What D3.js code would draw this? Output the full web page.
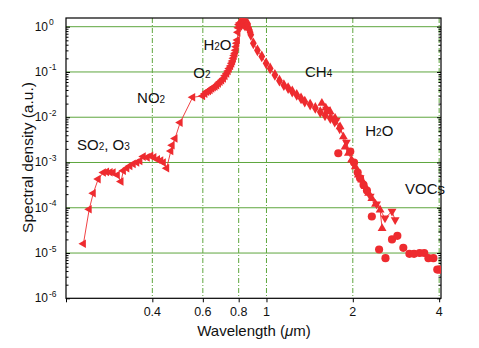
<!DOCTYPE html>
<html><head><meta charset="utf-8">
<script src="https://cdn.jsdelivr.net/npm/d3@7"></script>
<style>body{margin:0;background:#fff}svg{display:block}text{font-family:"Liberation Sans",Arial,sans-serif;fill:#111}</style>
</head><body><svg id="c" width="479" height="348"></svg>
<script>
// ---- data (wavelength in µm, spectral density a.u.) ----
const uvWl  = [0.230,0.241,0.249,0.259,0.270,0.277,0.285,0.292,0.302,0.311,0.317,0.326,0.334,0.343,0.353,0.362,0.372,0.384,0.395,0.405,0.417,0.428,0.437,0.449,0.464,0.469,0.480,0.500,0.553,0.599,0.610,0.619,0.628,0.636,0.645,0.653,0.662,0.671,0.680,0.689,0.698,0.708,0.717,0.727,0.735,0.742,0.750,0.757,0.762,0.767,0.772,0.777,0.781,0.784,0.788,0.792,0.795,0.798,0.802,0.807];
const uvVal = [1.6e-5,9.3e-5,2.1e-4,4.3e-4,6.0e-4,6.2e-4,6.1e-4,6.0e-4,5.3e-4,3.8e-4,6.6e-4,7.5e-4,8.4e-4,9.3e-4,1.0e-3,1.08e-3,1.35e-3,1.3e-3,1.4e-3,1.3e-3,1.17e-3,1.1e-3,1.0e-3,7.5e-4,1.8e-3,2.4e-3,3.4e-3,7.6e-3,2.76e-2,2.95e-2,3.3e-2,3.67e-2,3.8e-2,4.0e-2,4.3e-2,4.6e-2,4.8e-2,5.1e-2,5.6e-2,6.1e-2,6.6e-2,7.2e-2,8.2e-2,9.3e-2,0.105,0.12,0.135,0.155,0.175,0.20,0.23,0.26,0.30,0.36,0.43,0.51,0.75,0.95,1.1,1.2];
const nirWl  = [0.812,0.818,0.824,0.830,0.836,0.842,0.848,0.854,0.860,0.866,0.872,0.877,0.882,0.900,0.930,0.963,0.997,1.03,1.07,1.11,1.15,1.19,1.23,1.275,1.32,1.36,1.42,1.48,1.54,1.60,1.67,1.73,1.80];
const nirVal = [1.25,1.1,1.3,1.15,1.25,1.05,1.2,1.1,1.15,0.95,0.85,0.75,0.66,0.43,0.30,0.22,0.155,0.12,0.086,0.064,0.051,0.044,0.037,0.031,0.026,0.022,0.019,0.016,0.013,0.011,9.5e-3,8.0e-3,5.7e-3];
const upWl  = [1.56,1.61,1.667,1.735,1.806,1.854,1.88,1.93,1.98,2.04,2.09,2.15,2.21,2.27,2.33,2.40,2.49,2.53];
const upVal = [0.0204,0.016,0.0133,9.5e-3,6.2e-3,3.7e-3,2.2e-3,1.6e-3,1.14e-3,8.1e-4,5.3e-4,4.1e-4,2.95e-4,2.1e-4,1.6e-4,1.2e-4,9.0e-5,3.5e-5];
const downWl  = [1.62,1.75,1.90,2.00,2.12,2.30,2.42,2.59,2.74,2.81];
const downVal = [0.015,8.5e-3,2.8e-3,1.0e-3,4.6e-4,1.8e-4,1.2e-4,5.9e-5,8.3e-5,5.4e-5];
const dotWl  = [1.78,1.96,2.02,2.08,2.12,2.18,2.24,2.33,2.47,2.60,2.74,2.86,3.00,3.15,3.27,3.42,3.55,3.67,3.82,3.94,4.00];
const dotVal = [1.6e-3,1.74e-3,1.0e-3,6.0e-4,4.5e-4,3.2e-4,2.4e-4,6.4e-5,1.2e-5,7.7e-6,2.0e-5,2.4e-5,1.3e-5,9.6e-6,9.6e-6,1.0e-5,1.0e-5,7.7e-6,7.7e-6,4.3e-6,4.3e-6];
const xTicks = [0.4,0.6,0.8,1,2,4];
const xTickLabels = ["0.4","0.6","0.8","1","2","4"];
const yExps = [0,-1,-2,-3,-4,-5,-6];
const labels = [
  {t:[["SO",0],["2",1],[", O",0],["3",1]], wl:0.2184, v:1.9e-3},
  {t:[["NO",0],["2",1]], wl:0.354, v:0.0207},
  {t:[["O",0],["2",1]], wl:0.556, v:0.0738},
  {t:[["H",0],["2",1],["O",0]], wl:0.603, v:0.306},
  {t:[["CH",0],["4",1]], wl:1.363, v:0.0776},
  {t:[["H",0],["2",1],["O",0]], wl:2.21, v:3.86e-3},
  {t:[["VOCs",0]], wl:3.04, v:2.03e-4}
];

// ---- layout ----
const L=66, R=441, T=18, B=298.3;
const red="#ee2b2f", green="#5ea63e";
const x=d3.scaleLog().domain([0.2,4.06]).range([L,R]);
const y=d3.scaleLog().domain([1e-6,1.556]).range([B,T]);
const svg=d3.select("#c");

svg.append("clipPath").attr("id","clip").append("rect").attr("x",L).attr("y",T).attr("width",R-L).attr("height",B-T);

// grid
svg.append("g").selectAll("line").data(yExps.filter(e=>e>-6)).join("line")
  .attr("x1",L).attr("x2",R).attr("y1",e=>y(Math.pow(10,e))).attr("y2",e=>y(Math.pow(10,e)))
  .attr("stroke",green).attr("stroke-width",1);
svg.append("g").selectAll("line").data(xTicks).join("line")
  .attr("x1",d=>x(d)).attr("x2",d=>x(d)).attr("y1",T).attr("y2",B)
  .attr("stroke",green).attr("stroke-width",1).attr("stroke-dasharray","5,2,1,2");

// axes ticks (inward) using d3 axes
const yMinor=[];
for(let e=-6;e<0;e++) for(let k=2;k<10;k++) yMinor.push(k*Math.pow(10,e));
const yMajor=yExps.map(e=>Math.pow(10,e));
svg.append("g").attr("transform",`translate(${L},0)`).call(d3.axisRight(y).tickValues(yMajor).tickSize(4).tickFormat(""));
svg.append("g").attr("transform",`translate(${L},0)`).call(d3.axisRight(y).tickValues(yMinor).tickSize(2.5).tickFormat(""));
svg.append("g").attr("transform",`translate(${R},0)`).call(d3.axisLeft(y).tickValues(yMajor).tickSize(4).tickFormat(""));
svg.append("g").attr("transform",`translate(${R},0)`).call(d3.axisLeft(y).tickValues(yMinor).tickSize(2.5).tickFormat(""));
svg.append("g").attr("transform",`translate(0,${B})`).call(d3.axisBottom(x).tickValues([0.2].concat(xTicks)).tickSize(4).tickFormat(""));
svg.selectAll(".domain").remove();
svg.selectAll(".tick line").attr("stroke","#000");

// frame
svg.append("rect").attr("x",L).attr("y",T).attr("width",R-L).attr("height",B-T)
  .attr("fill","none").attr("stroke","#000").attr("stroke-width",1.2);

// tick labels
const yl=svg.append("g");
yExps.forEach(e=>{
  const t=yl.append("text").attr("x",48).attr("y",y(Math.pow(10,e))+4).attr("text-anchor","end").attr("font-size",12);
  t.text("10");
  yl.append("text").attr("x",49).attr("y",y(Math.pow(10,e))-1.5).attr("font-size",8.5).text(e===0?"0":"-"+(-e));
});
svg.append("g").selectAll("text").data(xTicks).join("text")
  .attr("x",d=>x(d)).attr("y",316).attr("text-anchor","middle").attr("font-size",12.5)
  .text((d,i)=>xTickLabels[i]);

// axis titles
const xt=svg.append("text").attr("x",254).attr("y",336).attr("text-anchor","middle").attr("font-size",15);
xt.append("tspan").text("Wavelength (");
xt.append("tspan").attr("font-style","italic").text("μ");
xt.append("tspan").text("m)");
svg.append("text").attr("transform","translate(33,157.5) rotate(-90)").attr("text-anchor","middle").attr("font-size",15.5).text("Spectral density (a.u.)");

// data
const plot=svg.append("g").attr("clip-path","url(#clip)");
const line=d3.line().x(d=>x(d[0])).y(d=>y(d[1]));
function series(wl,val,sym,size,rot,withLine){
  const pts=wl.map((w,i)=>[w,val[i]]);
  if(withLine) plot.append("path").datum(pts).attr("d",line).attr("fill","none").attr("stroke",red).attr("stroke-width",0.9);
  plot.append("g").selectAll("path").data(pts).join("path")
    .attr("d",d3.symbol().type(sym).size(size))
    .attr("transform",d=>`translate(${x(d[0])},${y(d[1])}) rotate(${rot})`)
    .attr("fill",red);
}
series(uvWl,uvVal,d3.symbolTriangle,32,-90,true);
series(nirWl,nirVal,d3.symbolDiamond,40,0,true);
series(upWl,upVal,d3.symbolTriangle,34,0,true);
series(downWl,downVal,d3.symbolTriangle,34,180,true);
series(dotWl,dotVal,d3.symbolCircle,52,0,false);

// annotations
labels.forEach(l=>{
  const t=svg.append("text").attr("x",x(l.wl)).attr("y",y(l.v)).attr("font-size",15);
  l.t.forEach(([s,sub])=>{
    t.append("tspan").attr("font-size",sub?10:15).text(s);
  });
});
</script></body></html>
